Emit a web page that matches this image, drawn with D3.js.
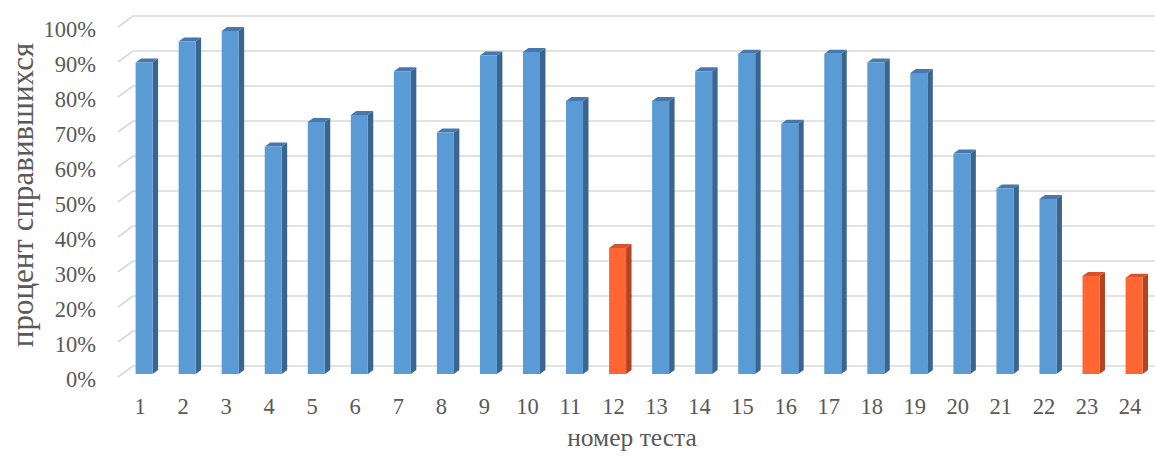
<!DOCTYPE html>
<html>
<head>
<meta charset="utf-8">
<script src="https://cdn.jsdelivr.net/npm/d3@7"></script>
<style>
  html, body { margin: 0; padding: 0; background: #fff; }
  svg { display: block; }
  text { font-family: "Liberation Serif", "Times New Roman", serif; }
</style>
</head>
<body>
<svg id="chart" width="1155" height="457"></svg>
<script>
const categories = ["1","2","3","4","5","6","7","8","9","10","11","12","13","14","15","16","17","18","19","20","21","22","23","24"];
const values = [89, 95, 98, 65, 72, 74, 86.5, 69, 91, 92, 78, 36, 78, 86.5, 91.5, 71.5, 91.5, 89, 86, 63, 53, 50, 28, 27.5];
const highlighted = ["12", "23", "24"];
const yTicks = [0, 10, 20, 30, 40, 50, 60, 70, 80, 90, 100];
const yTickLabels = ["0%","10%","20%","30%","40%","50%","60%","70%","80%","90%","100%"];
const xTitle = "номер теста";
const yTitle = "процент справившихся";

const svg = d3.select("#chart");
const W = 1155;

const x = d3.scaleBand().domain(categories).range([118.5, 1151.5]).paddingInner(0.605).paddingOuter(0.3025);
const y = d3.scaleLinear().domain([0, 100]).range([377, 27]);

// 3D depth of the floor/back wall
const depthDX = 15, depthDY = -11;
const frontFrac = 3 / 11, backFrac = 7 / 11;
const bfX = depthDX * frontFrac, bfY = depthDY * frontFrac;
const bbX = depthDX * backFrac, bbY = depthDY * backFrac;
const sideDX = bbX - bfX, sideDY = bbY - bfY;

// Gridlines (floor edge + back wall)
const x0 = 118;
svg.append("g").selectAll("path").data(yTicks).join("path")
  .attr("d", d => {
    const yy = y(d);
    return `M${x0},${yy}L${x0 + depthDX},${yy + depthDY}L${W},${yy + depthDY}`;
  })
  .attr("fill", "none")
  .attr("stroke", "#D9D9D9")
  .attr("stroke-width", 1.6);

const colors = {
  normal: { front: "#5B9BD5", top: "#4678AC", side: "#3A6591" },
  hi: { front: "#FF6633", top: "#D5532A", side: "#B4441F" }
};

const bars = svg.append("g").selectAll("g").data(categories.map((c, i) => ({ c, v: values[i] }))).join("g");
bars.each(function(d) {
  const g = d3.select(this);
  const col = highlighted.includes(d.c) ? colors.hi : colors.normal;
  const left = x(d.c) + bfX;
  const right = left + x.bandwidth();
  const top = y(d.v) + bfY;
  const bottom = y(0) + bfY;
  g.append("path")
    .attr("d", `M${right},${bottom}L${right},${top}L${right + sideDX},${top + sideDY}L${right + sideDX},${bottom + sideDY}Z`)
    .attr("fill", col.side);
  g.append("path")
    .attr("d", `M${left},${top}L${right},${top}L${right + sideDX},${top + sideDY}L${left + sideDX},${top + sideDY}Z`)
    .attr("fill", col.top);
  g.append("rect")
    .attr("x", left).attr("y", top)
    .attr("width", x.bandwidth()).attr("height", bottom - top)
    .attr("fill", col.front);
});

// Y tick labels
svg.append("g").selectAll("text").data(yTicks).join("text")
  .attr("x", 96)
  .attr("y", d => y(d) + 2)
  .attr("dy", "0.35em")
  .attr("text-anchor", "end")
  .attr("font-size", 22.5)
  .attr("fill", "#595959")
  .text((d, i) => yTickLabels[i]);

// X tick labels
svg.append("g").selectAll("text").data(categories).join("text")
  .attr("x", d => x(d) + x.bandwidth() / 2)
  .attr("y", 414)
  .attr("text-anchor", "middle")
  .attr("font-size", 22.5)
  .attr("fill", "#595959")
  .text(d => d);

// Axis titles
svg.append("text")
  .attr("x", 632).attr("y", 446)
  .attr("text-anchor", "middle")
  .attr("font-size", 25.5)
  .attr("fill", "#595959")
  .text(xTitle);

svg.append("text")
  .attr("transform", "translate(33,195) rotate(-90)")
  .attr("text-anchor", "middle")
  .attr("font-size", 31)
  .attr("fill", "#595959")
  .text(yTitle);
</script>
</body>
</html>
